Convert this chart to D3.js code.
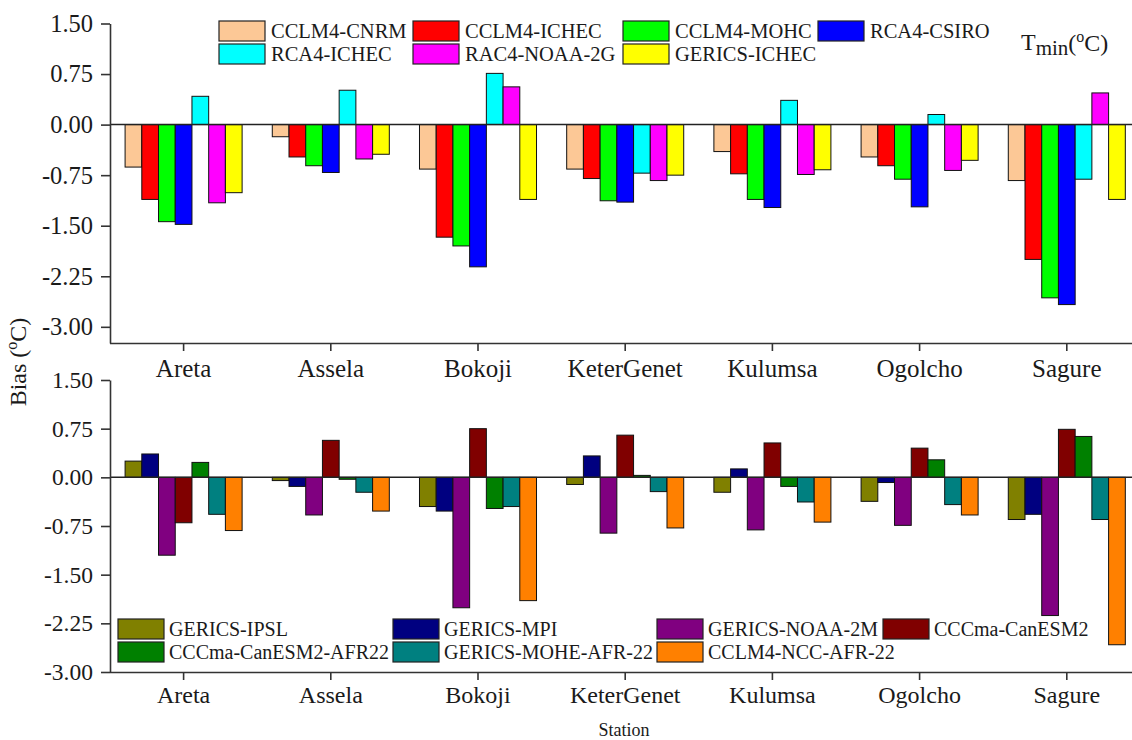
<!DOCTYPE html>
<html>
<head>
<meta charset="utf-8">
<script src="https://cdn.jsdelivr.net/npm/d3@7/dist/d3.min.js"></script>
<style>
  body { margin: 0; background: #fff; }
  svg { display: block; }
</style>
</head>
<body>
<div id="chart"></div>
<script>
const width = 1132;
const height = 740;
const serif = "'Liberation Serif', 'Times New Roman', serif";

// data
const stations = ["Areta", "Assela", "Bokoji", "KeterGenet", "Kulumsa", "Ogolcho", "Sagure"];
const yTicks = [1.5, 0.75, 0, -0.75, -1.5, -2.25, -3.0];

const topSeries = ["CCLM4-CNRM", "CCLM4-ICHEC", "CCLM4-MOHC", "RCA4-CSIRO", "RCA4-ICHEC", "RAC4-NOAA-2G", "GERICS-ICHEC"];
const topColors = ["#fcc896", "#ff0000", "#00ff00", "#0000ff", "#00ffff", "#ff00ff", "#ffff00"];
const topValues = [
    [-0.63, -0.18, -0.66, -0.66, -0.40, -0.48, -0.83],
    [-1.11, -0.48, -1.67, -0.80, -0.73, -0.61, -2.00],
    [-1.44, -0.61, -1.80, -1.13, -1.11, -0.81, -2.57],
    [-1.48, -0.71, -2.11, -1.15, -1.23, -1.22, -2.67],
    [0.42, 0.51, 0.76, -0.72, 0.36, 0.15, -0.81],
    [-1.16, -0.51, 0.56, -0.83, -0.74, -0.68, 0.47],
    [-1.01, -0.44, -1.11, -0.75, -0.67, -0.53, -1.11]
];

const bottomSeries = ["GERICS-IPSL", "GERICS-MPI", "GERICS-NOAA-2M", "CCCma-CanESM2", "CCCma-CanESM2-AFR22", "GERICS-MOHE-AFR-22", "CCLM4-NCC-AFR-22"];
const bottomColors = ["#808000", "#000080", "#800080", "#800000", "#008000", "#008080", "#ff8000"];
const bottomValues = [
    [0.25, -0.05, -0.45, -0.11, -0.23, -0.37, -0.65],
    [0.36, -0.14, -0.52, 0.33, 0.13, -0.08, -0.57],
    [-1.20, -0.58, -2.01, -0.86, -0.81, -0.74, -2.13],
    [-0.70, 0.57, 0.75, 0.65, 0.53, 0.45, 0.74],
    [0.23, -0.03, -0.48, 0.03, -0.14, 0.27, 0.63],
    [-0.57, -0.23, -0.45, -0.22, -0.38, -0.42, -0.65],
    [-0.82, -0.52, -1.90, -0.78, -0.69, -0.58, -2.58]
];

// layout
const axisX = 110;
const step = 147.2;
const fmt = d3.formatLocale({decimal: ".", thousands: ",", grouping: [3], currency: ["", ""], minus: "-"}).format(".2f");

const panels = [
    {
        series: topSeries, colors: topColors, values: topValues,
        domain: [-3.24, 1.5], range: [343, 23.5],
        tickFont: 24.5, catFont: 25, labelPad: 8, legendFont: 20.5,
        legend: {x: [219, 413, 623, 818], y: 21, dx: 52}
    },
    {
        series: bottomSeries, colors: bottomColors, values: bottomValues,
        domain: [-3.0, 1.5], range: [672, 380],
        tickFont: 23.5, catFont: 24, labelPad: 6, legendFont: 20,
        legend: {x: [118, 393, 657, 883], y: 619, dx: 51}
    }
];

const svg = d3.select("#chart").append("svg")
    .attr("width", width).attr("height", height)
    .attr("font-family", serif);

const x0 = d3.scaleBand()
    .domain(stations)
    .range([axisX, axisX + step * stations.length])
    .paddingInner(0.205)
    .paddingOuter(0.1025);

panels.forEach(p => {
    const y = d3.scaleLinear().domain(p.domain).range(p.range);
    const x1 = d3.scaleBand().domain(p.series).range([0, x0.bandwidth()]);

    const rows = stations.map((s, i) => ({
        station: s,
        bars: p.series.map((name, k) => ({name, color: p.colors[k], value: p.values[k][i]}))
    }));

    const g = svg.append("g");

    g.selectAll("g.group")
        .data(rows)
        .join("g")
        .attr("class", "group")
        .attr("transform", d => `translate(${x0(d.station)},0)`)
        .selectAll("rect")
        .data(d => d.bars)
        .join("rect")
        .attr("x", d => x1(d.name))
        .attr("width", x1.bandwidth())
        .attr("y", d => y(Math.max(0, d.value)))
        .attr("height", d => Math.abs(y(d.value) - y(0)))
        .attr("fill", d => d.color)
        .attr("stroke", "#111")
        .attr("stroke-width", 1);

    // zero line
    g.append("line")
        .attr("x1", axisX).attr("x2", width)
        .attr("y1", y(0)).attr("y2", y(0))
        .attr("stroke", "#222").attr("stroke-width", 1.5);

    const yAxis = g.append("g")
        .attr("transform", `translate(${axisX},0)`)
        .call(d3.axisLeft(y).tickValues(yTicks).tickFormat(fmt).tickSize(9).tickPadding(8).tickSizeOuter(0))
        .attr("font-family", serif).attr("font-size", p.tickFont);
    yAxis.selectAll("text").attr("fill", "#1a1a1a");

    const xAxis = g.append("g")
        .attr("transform", `translate(0,${p.range[0]})`)
        .call(d3.axisBottom(x0).tickSize(8).tickPadding(p.labelPad).tickSizeOuter(0))
        .attr("font-family", serif).attr("font-size", p.catFont);
    xAxis.selectAll("text").attr("fill", "#1a1a1a");

    [yAxis, xAxis].forEach(a => {
        a.select(".domain").attr("stroke", "#333").attr("stroke-width", 1.6);
        a.selectAll(".tick line").attr("stroke", "#333").attr("stroke-width", 1.6);
    });
    xAxis.select(".domain").attr("d", `M${axisX},0.5H${width + 20}`);

    // legend
    const leg = g.selectAll("g.legend")
        .data(p.series)
        .join("g")
        .attr("class", "legend")
        .attr("transform", (d, i) => `translate(${p.legend.x[i % 4]},${p.legend.y + Math.floor(i / 4) * 23})`);
    leg.append("rect")
        .attr("width", 46).attr("height", 20)
        .attr("fill", (d, i) => p.colors[i])
        .attr("stroke", "#222").attr("stroke-width", 1.2);
    leg.append("text")
        .attr("x", p.legend.dx).attr("y", 17)
        .attr("font-size", p.legendFont).attr("fill", "#1a1a1a")
        .text(d => d);
});

// panel title
const title = svg.append("text")
    .attr("x", 1021).attr("y", 50)
    .attr("font-size", 24).attr("fill", "#1a1a1a");
title.append("tspan").text("T");
title.append("tspan").attr("dy", 5).attr("font-size", 21).text("min");
title.append("tspan").attr("dy", -4).text("(");
title.append("tspan").attr("dy", -9).attr("font-size", 16).text("o");
title.append("tspan").attr("dy", 9).text("C)");

// y label
const yLabel = svg.append("text")
    .attr("transform", "translate(26,362) rotate(-90)")
    .attr("text-anchor", "middle")
    .attr("font-size", 24).attr("fill", "#1a1a1a");
yLabel.append("tspan").text("Bias (");
yLabel.append("tspan").attr("dy", -9).attr("font-size", 16).text("o");
yLabel.append("tspan").attr("dy", 9).text("C)");

// x label
svg.append("text")
    .attr("x", 624).attr("y", 736)
    .attr("text-anchor", "middle")
    .attr("font-size", 18).attr("fill", "#1a1a1a")
    .text("Station");
</script>
</body>
</html>
